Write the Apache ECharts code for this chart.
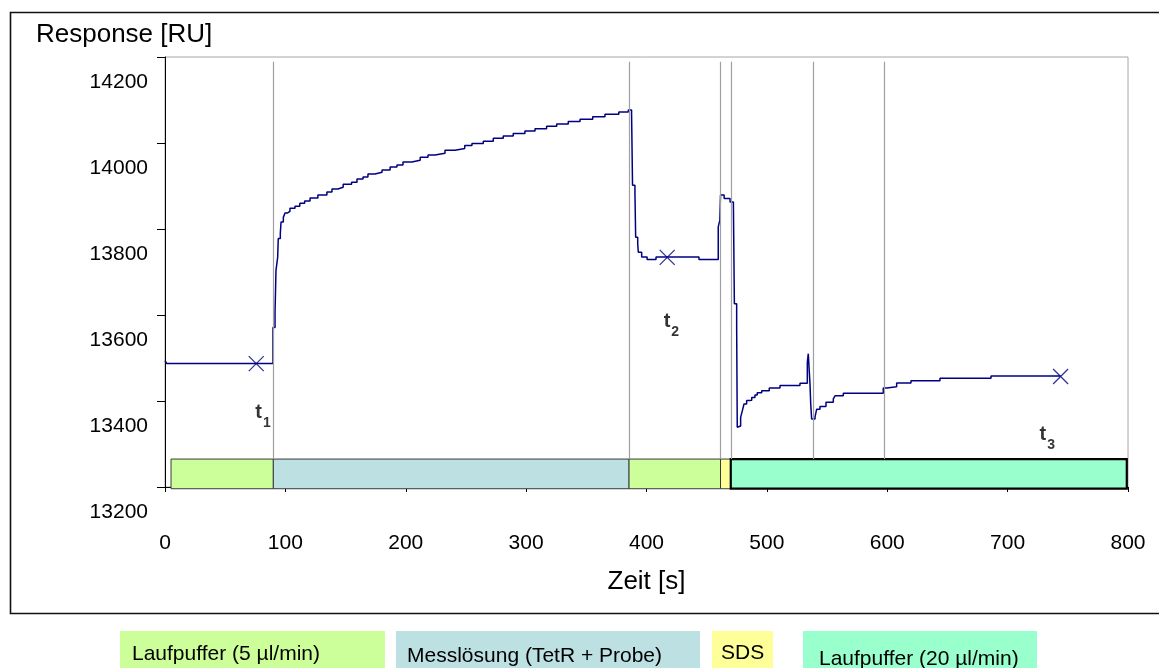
<!DOCTYPE html>
<html><head><meta charset="utf-8">
<script src="https://cdn.jsdelivr.net/npm/echarts@6/dist/echarts.min.js"></script>
<style>html,body{margin:0;padding:0;background:#fff}#c{width:1159px;height:668px}</style>
</head><body><div id="c"></div>
<script>
// ---- data ----
const timeS = [0, 1.5, 89.7, 91.4, 92.2, 93.6, 94.1, 95.8, 96.4, 98.3, 99.7, 101.6, 103.8, 108, 112, 116, 120.5, 127, 134.5, 138.7, 143.7, 148, 155, 159.5, 164.5, 168.6, 174.4, 180.3, 187, 192.7, 197.7, 205, 212, 218.5, 224.3, 232.6, 241, 249, 255, 264.4, 272.7, 281, 289.3, 299, 307.4, 317, 325.4, 335, 344.8, 355.3, 365.5, 377, 384.9, 387.6, 388.4, 390.4, 391, 392.7, 393.2, 396, 400.5, 407.9, 443.6, 459.6, 460.9, 461.5, 464.5, 469.4, 472.2, 473, 474.9, 475.4, 476.8, 478.2, 479.6, 481, 483.2, 485.4, 487.4, 490.1, 492, 495.7, 502, 510.9, 527.5, 533.6, 534.4, 535.8, 536.4, 537.2, 540, 541.4, 544.1, 549.1, 555.2, 556.6, 563.5, 596.7, 599.5, 607.8, 619.7, 643.8, 686.2, 744];
const responseRU = [13552, 13545, 13629, 13662, 13762, 13792, 13836, 13848, 13874, 13885, 13895, 13899, 13906, 13911, 13918, 13923, 13930, 13937, 13944, 13951, 13955, 13962, 13967, 13974, 13979, 13986, 13990, 13995, 14002, 14007, 14014, 14018, 14025, 14030, 14034, 14041, 14045, 14052, 14057, 14062, 14069, 14074, 14080, 14086, 14091, 14097, 14102, 14108, 14113, 14119, 14125, 14130, 14135, 14127, 13960, 13941, 13839, 13824, 13804, 13793, 13787, 13793, 13787, 13863, 13878, 13937, 13929, 13921, 13913, 13684, 13630, 13397, 13400, 13420, 13435, 13451, 13459, 13460, 13466, 13472, 13477, 13482, 13488, 13494, 13499, 13548, 13568, 13499, 13452, 13416, 13421, 13439, 13445, 13455, 13463, 13470, 13476, 13488, 13491, 13500, 13505, 13511, 13516, 13516];
const markerTimes = [75.8, 417.2, 744];
const markerValues = [13545, 13792, 13515];
const markerSubscripts = ['1', '2', '3'];
const switchTimes = [90, 385.5, 461.5, 470, 538.5, 597.5];
const phaseStarts = [5, 90, 385.5, 461.5, 470];
const phaseEnds = [90, 385.5, 461.5, 470, 799];
const phaseKinds = [0, 1, 0, 2, 3];
const phaseNames = ['Laufpuffer (5 µl/min)', 'Messlösung (TetR + Probe)', 'SDS', 'Laufpuffer (20 µl/min)'];
const yTickLabels = ['13200', '13400', '13600', '13800', '14000', '14200'];
const xTickValues = [0, 100, 200, 300, 400, 500, 600, 700, 800];
// band in data units where the phase bars sit, and top of the switch lines
const phaseBandBottom = 13254, phaseBandTop = 13323, switchLineTop = 14247;

// ---- styling ----
const FONT = "'Liberation Sans', Arial, sans-serif";
const phaseColors = ['#ccff99', '#bde0e3', '#ffff99', '#99ffcc'];
const navy = '#000080';
const labelOffsets = [[-1, 39], [-3.5, 54], [-21, 47.5]];

const chart = echarts.init(document.getElementById('c'), null, {renderer: 'canvas'});

const legendBoxes = [
  {x: 120, w: 265, tx: 132, ty: 654},
  {x: 396, w: 304, tx: 407, ty: 656},
  {x: 712, w: 61,  tx: 721, ty: 653},
  {x: 803, w: 234, tx: 819, ty: 659}
];
const graphics = [
  {type: 'rect', shape: {x: 10.5, y: 12.5, width: 1170, height: 601}, style: {fill: 'none', stroke: '#111', lineWidth: 1.6}, silent: true, z: 0}
];
legendBoxes.forEach((b, i) => {
  graphics.push({type: 'rect', shape: {x: b.x, y: 631, width: b.w, height: 45}, style: {fill: phaseColors[i]}, silent: true});
  graphics.push({type: 'text', x: b.tx, y: b.ty, style: {text: phaseNames[i], fill: '#000', fontSize: 21, fontFamily: FONT, verticalAlign: 'middle', align: 'left'}, silent: true});
});

const option = {
  animation: false,
  backgroundColor: '#fff',
  title: {
    text: 'Response [RU]', left: 36, top: 22, padding: 0,
    textStyle: {fontFamily: FONT, fontSize: 26, fontWeight: 'normal', color: '#000', lineHeight: 26}
  },
  grid: {left: 165, right: 31, top: 57, bottom: 181, show: true, borderColor: '#a6a6a6', borderWidth: 1, containLabel: false, outerBoundsMode: 'none'},
  xAxis: {
    type: 'value', min: xTickValues[0], max: xTickValues[xTickValues.length - 1], interval: 100,
    name: 'Zeit [s]', nameLocation: 'middle', nameGap: 82,
    nameTextStyle: {fontFamily: FONT, fontSize: 26, color: '#000', lineHeight: 26},
    axisLine: {lineStyle: {color: '#000', width: 1}},
    axisTick: {show: true, inside: false, length: 5, lineStyle: {color: '#000'}},
    axisLabel: {margin: 46, fontFamily: FONT, fontSize: 21, color: '#000', lineHeight: 21},
    splitLine: {show: false}
  },
  yAxis: {
    type: 'value', min: 13258, max: 14258, interval: 200,
    axisLine: {show: true, lineStyle: {color: '#000', width: 1}},
    axisTick: {show: true, inside: false, length: 8, lineStyle: {color: '#000'}},
    axisLabel: {
      margin: 17, color: '#000',
      formatter: (v, i) => '{a|' + yTickLabels[i] + '}',
      rich: {a: {fontFamily: FONT, fontSize: 21, lineHeight: 21, padding: [50, 0, 0, 0], color: '#000'}}
    },
    splitLine: {show: false}
  },
  graphic: graphics,
  series: [
    {
      type: 'custom', clip: false, z: 3, silent: true,
      data: phaseStarts.map((s, i) => [s, phaseEnds[i], phaseKinds[i]]),
      encode: {x: [0, 1]},
      renderItem: (params, api) => {
        const a = api.coord([api.value(0), phaseBandTop]);
        const b = api.coord([api.value(1), phaseBandBottom]);
        const k = api.value(2);
        const last = k === 3;
        return {
          type: 'rect',
          shape: {x: a[0], y: a[1], width: b[0] - a[0], height: b[1] - a[1]},
          style: {fill: phaseColors[k], stroke: last ? '#000' : '#3a3a3a', lineWidth: last ? 2.2 : 1}
        };
      }
    },
    {
      type: 'line', step: 'end', showSymbol: false, symbol: 'none', z: 4, silent: true,
      data: timeS.map((t, i) => [t, responseRU[i]]),
      lineStyle: {color: navy, width: 1.5},
      markLine: {
        silent: true, symbol: 'none', label: {show: false},
        lineStyle: {color: '#a0a0a0', width: 1.2, type: 'solid'},
        data: switchTimes.map(t => [{coord: [t, switchLineTop]}, {coord: [t, phaseBandTop]}])
      }
    },
    {
      type: 'scatter', z: 5, silent: true,
      symbol: 'path://M0,0L10,10M10,0L0,10', symbolSize: 15,
      itemStyle: {color: 'none', borderColor: navy, borderWidth: 1.3},
      data: markerTimes.map((t, i) => ({value: [t, markerValues[i]], label: {offset: labelOffsets[i]}})),
      label: {
        show: true, position: 'inside', align: 'left', verticalAlign: 'top',
        formatter: p => '{t|t}{s|' + markerSubscripts[p.dataIndex] + '}',
        rich: {
          t: {fontFamily: FONT, fontSize: 20, fontWeight: 'bold', lineHeight: 22, verticalAlign: 'top', color: '#000'},
          s: {fontFamily: FONT, fontSize: 14, fontWeight: 'bold', lineHeight: 14, padding: [20, 0, 0, 1], color: '#000'}
        }
      }
    }
  ]
};
chart.setOption(option);
</script>
</body></html>
